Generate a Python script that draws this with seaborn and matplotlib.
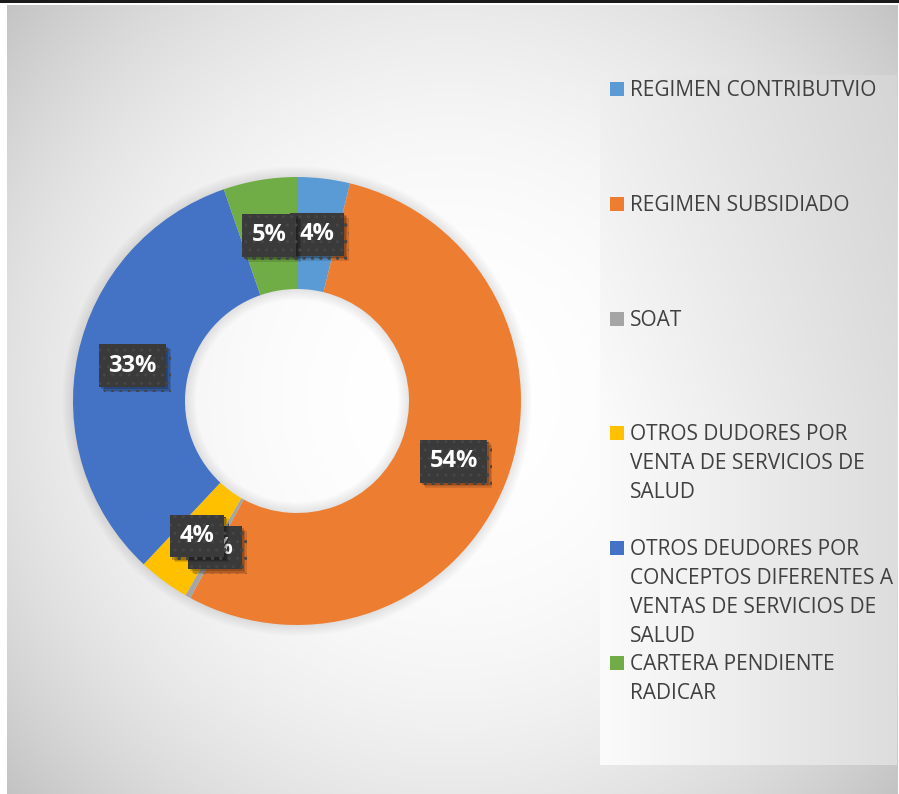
import textwrap
import numpy as np
import matplotlib
matplotlib.use("Agg")
import matplotlib.pyplot as plt
import matplotlib.patheffects as pe
import seaborn as sns
from matplotlib.patches import Rectangle

# ---------------- data ----------------
categories = [
    "REGIMEN CONTRIBUTVIO",
    "REGIMEN SUBSIDIADO",
    "SOAT",
    "OTROS DUDORES POR VENTA DE SERVICIOS DE SALUD",
    "OTROS DEUDORES POR CONCEPTOS DIFERENTES A VENTAS DE SERVICIOS DE SALUD",
    "CARTERA PENDIENTE RADICAR",
]
shares = [3.8, 54.1, 0.4, 3.7, 32.7, 5.3]
colors = ["#5B9BD5", "#ED7D31", "#A5A5A5", "#FFC000", "#4472C4", "#70AD47"]

sns.set_theme(style="white")
plt.rcParams['font.family'] = ['Open Sans', 'DejaVu Sans']
plt.rcParams['hatch.linewidth'] = 1.0
palette = sns.color_palette(colors)

W, H = 899, 794
fig = plt.figure(figsize=(W / 100, H / 100), dpi=100)
fig.patch.set_facecolor('white')


def fx(px):
    return px / W


def fy(py):
    return 1 - py / H


# ---------------- chart-area background (radial gradient) ----------------
bw, bh = 891, 789
bg = fig.add_axes([fx(7), 0, bw / W, bh / H])
yy, xx = np.mgrid[0:bh, 0:bw]
cx, cy = 445, 392
d = np.sqrt((xx - cx) ** 2 + (yy - cy) ** 2)
v = np.clip((255 - 22 * (d / 392.0) ** 2.4) / 255.0, 0, 1)
bg.imshow(np.dstack([v, v, v]), aspect='auto', interpolation='bilinear')
bg.axis('off')

# top border line
fig.patches.append(Rectangle((0, fy(3)), 1, 3 / H, transform=fig.transFigure,
                             fc='#1a1a1a', ec='none', zorder=5))

# ---------------- legend panel ----------------
pw, ph = 297, 690
pan = fig.add_axes([fx(600), fy(765), pw / W, ph / H])
py_, px_ = np.mgrid[0:ph, 0:pw]
xn = px_ / pw
tn = np.clip((345 - py_) / 345.0, 0, 1)
pv = np.clip((251 - 30 * xn - 13 * tn * (1 - 0.4 * xn)) / 255.0, 0, 1)
pan.imshow(np.dstack([pv, pv, pv]), aspect='auto', interpolation='bilinear')
pan.axis('off')

# ---------------- donut ----------------
R_px = 224
lim = 1.1
cxp, cyp = 297, 401
size = 2 * lim * R_px
ax = fig.add_axes([fx(cxp - lim * R_px), fy(cyp + lim * R_px), size / W, size / H])
ax.set_facecolor('none')

# soft shadow around ring
for k in range(8):
    ax.pie([1], colors=['#000000'], radius=1.0 + 0.006 * (k + 1),
           wedgeprops=dict(width=0.5 + 0.012 * (k + 1), edgecolor='none', alpha=0.012))

wedges, _ = ax.pie(shares, colors=palette, startangle=90, counterclock=False, radius=1.0,
                   wedgeprops=dict(width=0.5, edgecolor='none', linewidth=0))
ax.set_xlim(-lim, lim)
ax.set_ylim(-lim, lim)
ax.set_aspect('equal')
ax.axis('off')

total = sum(shares)
pcts = [int(round(s / total * 100)) for s in shares]
lbl_fs = 17
for i, (w, p) in enumerate(zip(wedges, pcts)):
    ang = np.deg2rad((w.theta1 + w.theta2) / 2)
    x, y = 0.75 * np.cos(ang), 0.75 * np.sin(ang)
    t = ax.text(x, y, f"{p}%", ha='center', va='center', fontsize=lbl_fs, fontweight='bold',
                color='white',
                bbox=dict(boxstyle='square,pad=0.4', fc='#3a3a3a', ec='#464646', lw=0, hatch='..'),
                zorder=11 + i)
    t.get_bbox_patch().set_path_effects([
        pe.SimplePatchShadow(offset=(3.5, -3.5), shadow_rgbFace='black', alpha=0.12),
        pe.SimplePatchShadow(offset=(2.5, -2.5), shadow_rgbFace='black', alpha=0.15),
        pe.SimplePatchShadow(offset=(1.5, -1.5), shadow_rgbFace='black', alpha=0.18),
        pe.Normal(),
    ])

# ---------------- legend ----------------
first_base = 96
pitch = 114.8
line_pitch = 29
for i, (cat, col) in enumerate(zip(categories, palette)):
    base = first_base + i * pitch
    fig.patches.append(Rectangle((fx(610), fy(base)), 14 / W, 14 / H,
                                 transform=fig.transFigure, fc=col, ec='none', zorder=6))
    for j, line in enumerate(textwrap.wrap(cat, 22)):
        fig.text(fx(630), fy(base + j * line_pitch), line, fontsize=15, color='#404040',
                 va='baseline', ha='left', zorder=6)

fig.savefig("out.png", dpi=100)
